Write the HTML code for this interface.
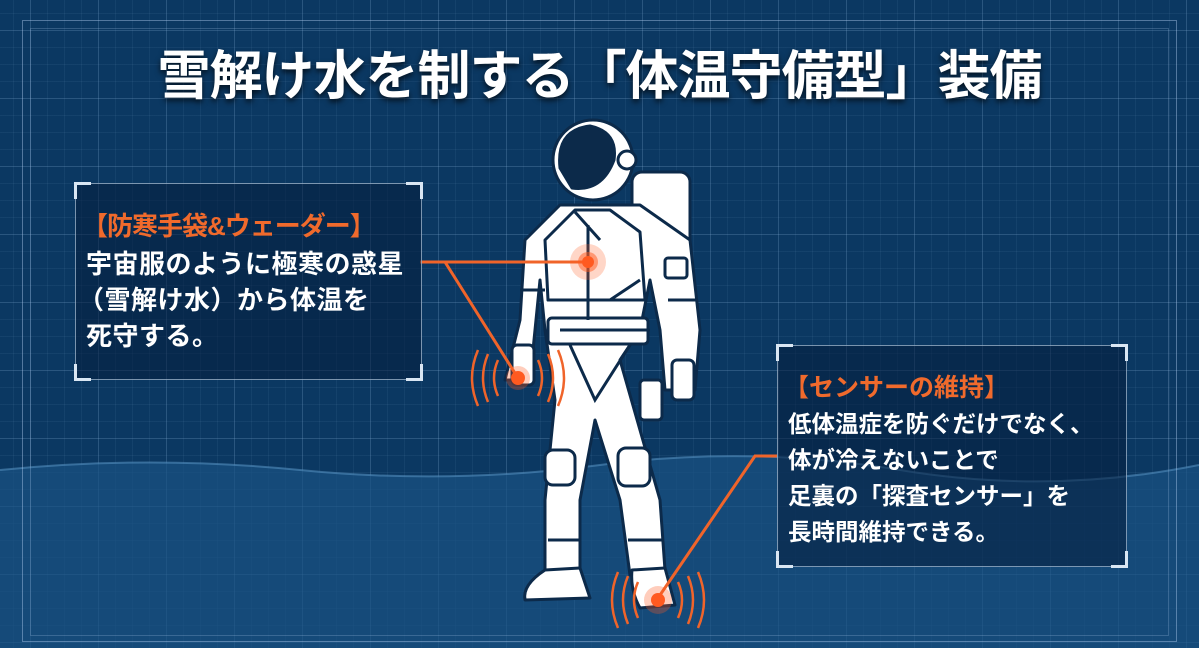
<!DOCTYPE html>
<html><head><meta charset="utf-8"><style>
*{margin:0;padding:0}
body{width:1199px;height:648px;overflow:hidden;background:#0b3862;position:relative;font-family:"Liberation Sans","Noto Sans CJK JP",sans-serif}
.grid{position:absolute;inset:0;background-image:
linear-gradient(rgba(150,190,230,.16) 1px,transparent 1px),
linear-gradient(90deg,rgba(150,190,230,.16) 1px,transparent 1px),
linear-gradient(rgba(150,190,230,.07) 1px,transparent 1px),
linear-gradient(90deg,rgba(150,190,230,.07) 1px,transparent 1px);
background-size:68px 68px,68px 68px,17px 17px,17px 17px;background-position:30px 30px}
.frame{position:absolute;left:22px;top:20px;right:22px;bottom:6px;border:1px solid rgba(170,200,235,.45)}
.frame2{position:absolute;left:30px;top:28px;right:30px;bottom:12px;border:1px solid rgba(170,200,235,.25)}
h1{position:absolute;left:0;width:1199px;top:34px;text-align:center;color:#fff;font-size:53px;font-weight:bold;letter-spacing:-1px;text-shadow:0 3px 6px rgba(0,0,0,.7)}
.box{position:absolute;background:rgba(6,30,60,.55);border:1px solid rgba(200,220,240,.6)}
.c{position:absolute;width:14px;height:14px;border:3px solid #d9e6f3}
.box .t{color:#f06a2c;font-weight:bold;position:absolute;left:6px;white-space:nowrap}
.box .b{color:#fff;font-weight:bold;position:absolute;left:10px;white-space:nowrap}
</style></head><body>
<div class="grid"></div>
<svg style="position:absolute;left:0;top:0" width="1199" height="648">
<path d="M0 470 Q150 455 300 470 T600 465 T900 470 T1199 465 L1199 648 L0 648Z" fill="#1a5283" opacity=".7"/>
<path d="M0 470 Q150 455 300 470 T600 465 T900 470 T1199 465" fill="none" stroke="#5f9ccc" stroke-width="2" opacity=".5"/>
</svg>
<div class="frame"></div><div class="frame2"></div>
<h1>雪解け水を制する「体温守備型」装備</h1>

<svg style="position:absolute;left:0;top:0" width="1199" height="648">
<g fill="#fff" stroke="#0c2a4a" stroke-width="3" stroke-linejoin="round">
<rect x="632" y="172" width="58" height="100" rx="10"/>
<path d="M560 205 L640 205 L690 240 L700 330 L695 390 L665 390 L660 330 L650 280 L640 330 L620 360 L660 500 L665 570 L630 575 L620 500 L595 420 L580 500 L580 570 L545 575 L545 500 L555 400 L545 330 L540 280 L535 330 L530 380 L505 380 L520 320 L525 240Z"/>
<path d="M545 240 L575 210 L610 210 L640 232 L645 300 L548 300Z"/>
<rect x="548" y="318" width="100" height="26" rx="4"/>
<rect x="545" y="450" width="30" height="35" rx="8"/><rect x="618" y="448" width="32" height="38" rx="8"/>
<path d="M545 570 L580 568 L590 598 L525 600 Q522 585 545 570Z"/>
<path d="M632 570 L665 568 L675 605 L640 608 Q630 590 632 570Z"/>
<circle cx="593" cy="160" r="40"/>
<path d="M560 168 Q556 130 590 126 Q618 132 614 160 Q602 192 572 188Z" fill="#0c2a4a"/>
<circle cx="627" cy="160" r="9"/>
<rect x="512" y="345" width="22" height="40" rx="5"/><rect x="672" y="360" width="22" height="40" rx="5"/>
<rect x="640" y="380" width="22" height="40" rx="4"/>
<rect x="665" y="258" width="22" height="20" rx="3"/>
<path d="M520 290 L545 290 M668 300 L696 300 M548 540 L580 540 M628 540 L662 540" fill="none"/>
</g>
<g stroke="#0c2a4a" stroke-width="3" fill="none">
<path d="M588 225 L588 320 M560 330 L650 330 M570 345 L595 400 L630 345 M575 212 L600 240 M640 280 L610 300"/>
</g>
<g stroke="#f0642a" stroke-width="3" fill="none">
<path d="M420 262 L588 262 M445 262 L518 378"/>
<path d="M777 456 L755 456 L658 598"/>
</g>
<g fill="#ff5a20">
<circle cx="588" cy="262" r="18" opacity=".25"/><circle cx="588" cy="262" r="10" opacity=".5"/><circle cx="588" cy="262" r="6"/>
<circle cx="518" cy="378" r="12" opacity=".3"/><circle cx="518" cy="378" r="7"/>
<circle cx="658" cy="600" r="14" opacity=".3"/><circle cx="658" cy="600" r="7"/>
</g>
<g stroke="#f0642a" stroke-width="2.5" fill="none">
<path d="M498 360 Q490 378 498 396 M488 354 Q478 378 488 402 M478 350 Q466 378 478 406"/>
<path d="M538 360 Q546 378 538 396 M548 354 Q558 378 548 402 M558 350 Q570 378 558 406"/>
<path d="M638 582 Q630 600 638 618 M628 576 Q618 600 628 624 M618 572 Q606 600 618 628"/>
<path d="M678 582 Q686 600 678 618 M688 576 Q698 600 688 624 M698 572 Q710 600 698 628"/>
</g>
</svg>

<div class="box" style="left:75px;top:183px;width:345px;height:195px">
<div class="c" style="left:-2px;top:-2px;border-right:0;border-bottom:0"></div>
<div class="c" style="right:-2px;top:-2px;border-left:0;border-bottom:0"></div>
<div class="c" style="left:-2px;bottom:-2px;border-right:0;border-top:0"></div>
<div class="c" style="right:-2px;bottom:-2px;border-left:0;border-top:0"></div>
<div class="t" style="top:22px;font-size:26px;letter-spacing:-1px">【防寒手袋&amp;ウェーダー】</div>
<div class="b" style="top:62px;font-size:26px;line-height:36px;letter-spacing:0.5px">宇宙服のように極寒の惑星<br><span style="margin-left:-8px">（雪解け水）から体温を</span><br>死守する。</div>
</div>

<div class="box" style="left:777px;top:345px;width:348px;height:220px">
<div class="c" style="left:-2px;top:-2px;border-right:0;border-bottom:0"></div>
<div class="c" style="right:-2px;top:-2px;border-left:0;border-bottom:0"></div>
<div class="c" style="left:-2px;bottom:-2px;border-right:0;border-top:0"></div>
<div class="c" style="right:-2px;bottom:-2px;border-left:0;border-top:0"></div>
<div class="t" style="top:22px;font-size:25px">【センサーの維持】</div>
<div class="b" style="top:60px;font-size:23.5px;line-height:36px">低体温症を防ぐだけでなく、<br>体が冷えないことで<br>足裏の「探査センサー」を<br>長時間維持できる。</div>
</div>
</body></html>
